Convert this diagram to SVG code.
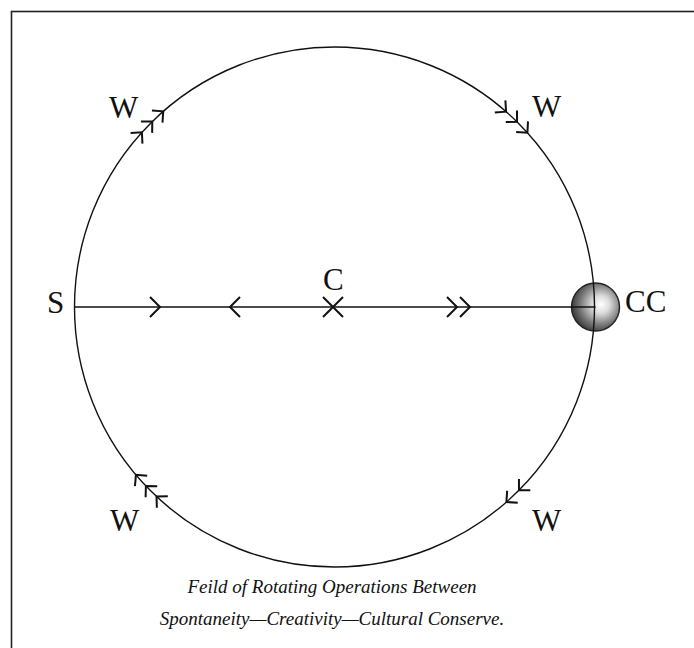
<svg xmlns="http://www.w3.org/2000/svg" width="694" height="648" viewBox="0 0 694 648">
  <style>
    .lbl { font-family: "Liberation Serif", "DejaVu Serif", serif; font-size: 31px; fill: #111; }
    .cap { font-family: "Liberation Serif", "DejaVu Serif", serif; font-style: italic; font-size: 19px; fill: #111; text-anchor: middle; }
    .ln { fill: none; stroke: #111; stroke-width: 1.4; }
    .chev { fill: none; stroke: #111; stroke-width: 2; stroke-linecap: butt; stroke-linejoin: miter; }
  </style>
  <defs>
    <radialGradient id="sph" cx="0.6" cy="0.45" r="0.6" fx="0.62" fy="0.45">
      <stop offset="0" stop-color="#ffffff"/>
      <stop offset="0.3" stop-color="#dcdcdc"/>
      <stop offset="0.7" stop-color="#7a7a7a"/>
      <stop offset="1" stop-color="#3a3a3a"/>
    </radialGradient>
    <path id="cv" d="M-8,-8 L0,0 L8,-8"/>
  </defs>
  <rect width="694" height="648" fill="#ffffff"/>
  <rect x="11.5" y="11.5" width="700" height="660" fill="none" stroke="#222" stroke-width="1.6"/>

  <g id="node-CC">
    <circle cx="595.5" cy="307" r="24" fill="url(#sph)" stroke="#222" stroke-width="1.4"/>
    <text class="lbl" x="625" y="312">CC</text>
  </g>

  <g id="connectors">
    <circle class="ln" cx="334.5" cy="307" r="260"/>
    <line class="ln" x1="75" y1="307" x2="595.5" y2="307"/>
    <path class="chev" d="M150,297 L160,307 L150,317"/>
    <path class="chev" d="M240,297 L230,307 L240,317"/>
    <path class="chev" d="M447,297 L457,307 L447,317"/>
    <path class="chev" d="M460,297 L470,307 L460,317"/>
    <g transform="translate(334.5 307)">
      <g transform="rotate(-137.8) translate(260 0)"><use href="#cv" class="chev"/></g>
      <g transform="rotate(-134.5) translate(260 0)"><use href="#cv" class="chev"/></g>
      <g transform="rotate(-131.2) translate(260 0)"><use href="#cv" class="chev"/></g>

      <g transform="rotate(-48.7) translate(260 0)"><use href="#cv" class="chev"/></g>
      <g transform="rotate(-45.4) translate(260 0)"><use href="#cv" class="chev"/></g>
      <g transform="rotate(-42.1) translate(260 0)"><use href="#cv" class="chev"/></g>

      <g transform="rotate(44.8) translate(260 0)"><use href="#cv" class="chev"/></g>
      <g transform="rotate(48.6) translate(260 0)"><use href="#cv" class="chev"/></g>

      <g transform="rotate(133.2) translate(260 0)"><use href="#cv" class="chev"/></g>
      <g transform="rotate(136.5) translate(260 0)"><use href="#cv" class="chev"/></g>
      <g transform="rotate(139.8) translate(260 0)"><use href="#cv" class="chev"/></g>
    </g>
  </g>

  <g id="node-S"><text class="lbl" x="47" y="313">S</text></g>
  <g id="node-C">
    <path class="chev" d="M323,297 L343,317 M343,297 L323,317"/>
    <text class="lbl" x="323" y="290">C</text>
  </g>
  <g id="node-W-tl"><text class="lbl" x="109" y="118">W</text></g>
  <g id="node-W-tr"><text class="lbl" x="532" y="117">W</text></g>
  <g id="node-W-bl"><text class="lbl" x="110" y="531">W</text></g>
  <g id="node-W-br"><text class="lbl" x="532" y="531">W</text></g>

  <g id="caption">
    <text class="cap" x="332" y="593">Feild of Rotating Operations Between</text>
    <text class="cap" x="332" y="625">Spontaneity—Creativity—Cultural Conserve.</text>
  </g>
</svg>
